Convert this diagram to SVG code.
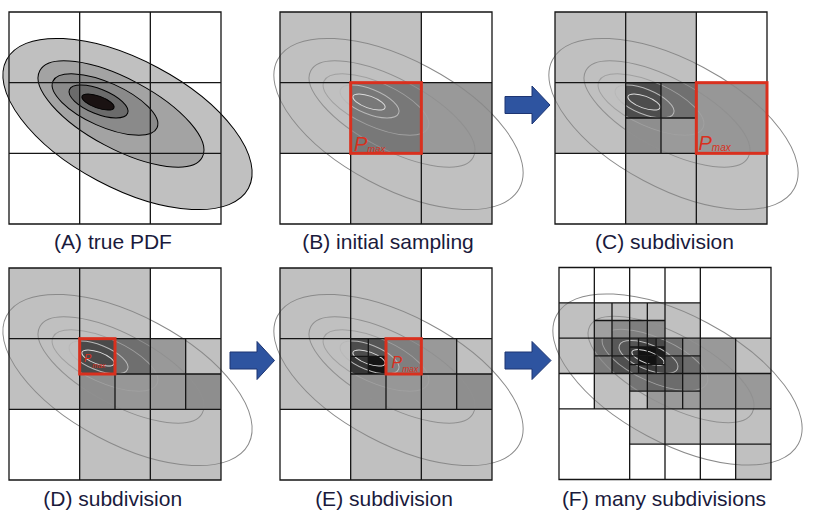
<svg xmlns="http://www.w3.org/2000/svg" xmlns:xlink="http://www.w3.org/1999/xlink" width="813" height="522" viewBox="0 0 813 522">
<style>
.lbl{font-family:"Liberation Sans",Arial,sans-serif;font-size:21px;fill:#1a1a3c;text-anchor:middle}
.grid{fill:none;stroke:#151515;stroke-width:1.3}
.w{fill:#fff}.L{fill:#c0c0c0}.M{fill:#999}
.red{fill:none;stroke:#d9301e;stroke-width:3}
.pm{font-family:"Liberation Sans",Arial,sans-serif;fill:#d9301e;font-style:italic}
.arrow{fill:#2e54a0;stroke:#1d3572;stroke-width:1}
.pdf{stroke:#000;stroke-width:1}
</style>
<defs>
<g id="contours" fill="none" stroke-width="1">
<ellipse cx="118.5" cy="112" rx="137" ry="64" transform="rotate(28 118.5 112)" stroke="#8a8a8a"/>
<ellipse cx="112" cy="102" rx="92" ry="35" transform="rotate(28 112 102)" stroke="#909090"/>
<ellipse cx="96" cy="92.5" rx="57" ry="22" transform="rotate(24 96 92.5)" stroke="#a0a0a0"/>
<ellipse cx="89.5" cy="89.5" rx="31.4" ry="12.4" transform="rotate(22 89.5 89.5)" stroke="#b8b8b8"/>
<ellipse cx="89" cy="90" rx="17" ry="6" transform="rotate(20 89 90)" stroke="#dcdcdc"/>
</g>
</defs>
<rect width="813" height="522" fill="#fff"/>

<g id="panelA" transform="translate(9,12)">
<ellipse class="pdf" cx="118.5" cy="112" rx="137" ry="64" transform="rotate(28 118.5 112)" fill="#c0c0c0"/>
<ellipse class="pdf" cx="112" cy="102" rx="92" ry="35" transform="rotate(28 112 102)" fill="#a3a3a3"/>
<ellipse class="pdf" cx="96" cy="92.5" rx="57" ry="22" transform="rotate(24 96 92.5)" fill="#8a8a8a"/>
<ellipse class="pdf" cx="89.5" cy="89.5" rx="31.4" ry="12.4" transform="rotate(22 89.5 89.5)" fill="#6b6b6b"/>
<ellipse class="pdf" cx="89" cy="90" rx="17" ry="6" transform="rotate(20 89 90)" fill="#1a1212"/>
<path class="grid" d="M0 0H212V212H0Z M70.67 0V212 M141.33 0V212 M0 70.67H212 M0 141.33H212"/>
</g>

<g id="panelB" transform="translate(280,12)">
<rect class="L" x="0" y="0" width="70.67" height="70.67"/>
<rect class="L" x="70.67" y="0" width="70.67" height="70.67"/>
<rect class="w" x="141.33" y="0" width="70.67" height="70.67"/>
<rect class="L" x="0" y="70.67" width="70.67" height="70.67"/>
<rect fill="#787878" x="70.67" y="70.67" width="70.67" height="70.67"/>
<rect class="M" x="141.33" y="70.67" width="70.67" height="70.67"/>
<rect class="w" x="0" y="141.33" width="70.67" height="70.67"/>
<rect class="L" x="70.67" y="141.33" width="70.67" height="70.67"/>
<rect class="L" x="141.33" y="141.33" width="70.67" height="70.67"/>
<use xlink:href="#contours"/>
<path class="grid" d="M0 0H212V212H0Z M70.67 0V212 M141.33 0V212 M0 70.67H212 M0 141.33H212"/>
<rect class="red" x="70.67" y="70.67" width="70.67" height="70.67"/>
<text class="pm" x="74" y="139" font-size="20">P<tspan font-size="9.5" dx="0" dy="1">max</tspan></text>
</g>

<g id="panelC" transform="translate(555,12)">
<rect class="L" x="0" y="0" width="70.67" height="70.67"/>
<rect class="L" x="70.67" y="0" width="70.67" height="70.67"/>
<rect class="w" x="141.33" y="0" width="70.67" height="70.67"/>
<rect class="L" x="0" y="70.67" width="70.67" height="70.67"/>
<rect fill="#4d4d4d" x="70.67" y="70.67" width="35.33" height="35.33"/>
<rect fill="#707070" x="106" y="70.67" width="35.33" height="35.33"/>
<rect fill="#8e8e8e" x="70.67" y="106" width="35.33" height="35.33"/>
<rect fill="#9a9a9a" x="106" y="106" width="35.33" height="35.33"/>
<rect fill="#979797" x="141.33" y="70.67" width="70.67" height="70.67"/>
<rect class="w" x="0" y="141.33" width="70.67" height="70.67"/>
<rect class="L" x="70.67" y="141.33" width="70.67" height="70.67"/>
<rect class="L" x="141.33" y="141.33" width="70.67" height="70.67"/>
<use xlink:href="#contours"/>
<path class="grid" d="M0 0H212V212H0Z M70.67 0V212 M141.33 0V212 M0 70.67H212 M0 141.33H212 M70.67 106H141.33 M106 70.67V141.33"/>
<rect class="red" x="141.33" y="70.67" width="70.67" height="70.67"/>
<text class="pm" x="143.5" y="138" font-size="20">P<tspan font-size="10" dy="1">max</tspan></text>
</g>

<g id="panelD" transform="translate(9,268)">
<rect class="L" x="0" y="0" width="70.67" height="70.67"/>
<rect class="L" x="70.67" y="0" width="70.67" height="70.67"/>
<rect class="w" x="141.33" y="0" width="70.67" height="70.67"/>
<rect class="L" x="0" y="70.67" width="70.67" height="70.67"/>
<rect fill="#4a4a4a" x="70.67" y="70.67" width="35.33" height="35.33"/>
<rect fill="#6f6f6f" x="106" y="70.67" width="35.33" height="35.33"/>
<rect fill="#8d8d8d" x="70.67" y="106" width="35.33" height="35.33"/>
<rect fill="#979797" x="106" y="106" width="35.33" height="35.33"/>
<rect class="M" x="141.33" y="70.67" width="35.33" height="35.33"/>
<rect class="L" x="176.67" y="70.67" width="35.33" height="35.33"/>
<rect class="M" x="141.33" y="106" width="35.33" height="35.33"/>
<rect fill="#8e8e8e" x="176.67" y="106" width="35.33" height="35.33"/>
<rect class="w" x="0" y="141.33" width="70.67" height="70.67"/>
<rect class="L" x="70.67" y="141.33" width="70.67" height="70.67"/>
<rect class="L" x="141.33" y="141.33" width="70.67" height="70.67"/>
<use xlink:href="#contours"/>
<path class="grid" d="M0 0H212V212H0Z M70.67 0V212 M141.33 0V212 M0 70.67H212 M0 141.33H212 M70.67 106H212 M106 70.67V141.33 M176.67 70.67V141.33"/>
<rect class="red" x="70.67" y="70.67" width="35.33" height="35.33"/>
<text class="pm" x="75" y="94" font-size="11">P<tspan font-size="7" dx="1" dy="6">max</tspan></text>
</g>

<g id="panelE" transform="translate(280,268)">
<rect class="L" x="0" y="0" width="70.67" height="70.67"/>
<rect class="L" x="70.67" y="0" width="70.67" height="70.67"/>
<rect class="w" x="141.33" y="0" width="70.67" height="70.67"/>
<rect class="L" x="0" y="70.67" width="70.67" height="70.67"/>
<rect fill="#4c4c4c" x="70.67" y="70.67" width="17.67" height="17.67"/>
<rect fill="#555" x="88.33" y="70.67" width="17.67" height="17.67"/>
<rect fill="#363636" x="70.67" y="88.33" width="17.67" height="17.67"/>
<rect fill="#141414" x="88.33" y="88.33" width="17.67" height="17.67"/>
<rect fill="#7f7f7f" x="106" y="70.67" width="35.33" height="35.33"/>
<rect fill="#8f8f8f" x="70.67" y="106" width="35.33" height="35.33"/>
<rect fill="#979797" x="106" y="106" width="35.33" height="35.33"/>
<rect class="M" x="141.33" y="70.67" width="35.33" height="35.33"/>
<rect class="L" x="176.67" y="70.67" width="35.33" height="35.33"/>
<rect class="M" x="141.33" y="106" width="35.33" height="35.33"/>
<rect fill="#8e8e8e" x="176.67" y="106" width="35.33" height="35.33"/>
<rect class="w" x="0" y="141.33" width="70.67" height="70.67"/>
<rect class="L" x="70.67" y="141.33" width="70.67" height="70.67"/>
<rect class="L" x="141.33" y="141.33" width="70.67" height="70.67"/>
<use xlink:href="#contours"/>
<path class="grid" d="M0 0H212V212H0Z M70.67 0V212 M141.33 0V212 M0 70.67H212 M0 141.33H212 M70.67 106H212 M106 70.67V141.33 M176.67 70.67V141.33 M70.67 88.33H106 M88.33 70.67V106"/>
<rect class="red" x="106" y="70.67" width="35.33" height="35.33"/>
<text class="pm" x="111.5" y="100" font-size="16">P<tspan font-size="8.5" dy="4">max</tspan></text>
</g>

<g id="panelF" transform="translate(559,267.5)">
<rect class="w" x="0" y="0" width="35.33" height="35.33"/>
<rect class="w" x="35.33" y="0" width="35.33" height="35.33"/>
<rect class="L" x="0" y="35.33" width="35.33" height="35.33"/>
<rect class="L" x="35.33" y="35.33" width="17.67" height="17.67"/>
<rect class="L" x="53" y="35.33" width="17.67" height="17.67"/>
<rect fill="#a0a0a0" x="35.33" y="53" width="17.67" height="17.67"/>
<rect fill="#8a8a8a" x="53" y="53" width="17.67" height="17.67"/>
<rect class="w" x="70.67" y="0" width="35.33" height="35.33"/>
<rect class="w" x="106" y="0" width="35.33" height="35.33"/>
<rect class="L" x="70.67" y="35.33" width="17.67" height="17.67"/>
<rect class="L" x="88.33" y="35.33" width="17.67" height="17.67"/>
<rect fill="#7e7e7e" x="70.67" y="53" width="17.67" height="17.67"/>
<rect fill="#8e8e8e" x="88.33" y="53" width="17.67" height="17.67"/>
<rect class="L" x="106" y="35.33" width="35.33" height="35.33"/>
<rect class="w" x="141.33" y="0" width="70.67" height="70.67"/>
<rect class="L" x="0" y="70.67" width="35.33" height="35.33"/>
<rect fill="#6a6a6a" x="35.33" y="70.67" width="17.67" height="17.67"/>
<rect fill="#585858" x="53" y="70.67" width="17.67" height="17.67"/>
<rect fill="#7c7c7c" x="35.33" y="88.33" width="17.67" height="17.67"/>
<rect fill="#505050" x="53" y="88.33" width="17.67" height="17.67"/>
<rect class="w" x="0" y="106" width="35.33" height="35.33"/>
<rect class="L" x="35.33" y="106" width="35.33" height="35.33"/>
<rect fill="#555" x="70.67" y="70.67" width="8.83" height="8.83"/>
<rect fill="#444" x="79.5" y="70.67" width="8.83" height="8.83"/>
<rect fill="#3c3c3c" x="70.67" y="79.5" width="8.83" height="8.83"/>
<rect fill="#121212" x="79.5" y="79.5" width="8.83" height="8.83"/>
<rect fill="#3a3a3a" x="88.33" y="70.67" width="8.83" height="8.83"/>
<rect fill="#4a4a4a" x="97.17" y="70.67" width="8.83" height="8.83"/>
<rect fill="#121212" x="88.33" y="79.5" width="8.83" height="8.83"/>
<rect fill="#1c1c1c" x="97.17" y="79.5" width="8.83" height="8.83"/>
<rect fill="#444" x="70.67" y="88.33" width="8.83" height="8.83"/>
<rect fill="#161616" x="79.5" y="88.33" width="8.83" height="8.83"/>
<rect fill="#555" x="70.67" y="97.17" width="8.83" height="8.83"/>
<rect fill="#3a3a3a" x="79.5" y="97.17" width="8.83" height="8.83"/>
<rect fill="#121212" x="88.33" y="88.33" width="8.83" height="8.83"/>
<rect fill="#2a2a2a" x="97.17" y="88.33" width="8.83" height="8.83"/>
<rect fill="#3a3a3a" x="88.33" y="97.17" width="8.83" height="8.83"/>
<rect fill="#4a4a4a" x="97.17" y="97.17" width="8.83" height="8.83"/>
<rect fill="#717171" x="106" y="70.67" width="17.67" height="17.67"/>
<rect fill="#8a8a8a" x="123.67" y="70.67" width="17.67" height="17.67"/>
<rect fill="#565656" x="106" y="88.33" width="17.67" height="17.67"/>
<rect fill="#6c6c6c" x="123.67" y="88.33" width="17.67" height="17.67"/>
<rect fill="#747474" x="70.67" y="106" width="17.67" height="17.67"/>
<rect fill="#666" x="88.33" y="106" width="17.67" height="17.67"/>
<rect class="L" x="70.67" y="123.67" width="17.67" height="17.67"/>
<rect class="M" x="88.33" y="123.67" width="17.67" height="17.67"/>
<rect fill="#6c6c6c" x="106" y="106" width="17.67" height="17.67"/>
<rect fill="#7a7a7a" x="123.67" y="106" width="17.67" height="17.67"/>
<rect fill="#9a9a9a" x="106" y="123.67" width="17.67" height="17.67"/>
<rect fill="#9a9a9a" x="123.67" y="123.67" width="17.67" height="17.67"/>
<rect class="M" x="141.33" y="70.67" width="35.33" height="35.33"/>
<rect class="L" x="176.67" y="70.67" width="35.33" height="35.33"/>
<rect class="M" x="141.33" y="106" width="35.33" height="35.33"/>
<rect class="M" x="176.67" y="106" width="35.33" height="35.33"/>
<rect class="w" x="0" y="141.33" width="70.67" height="70.67"/>
<rect class="L" x="70.67" y="141.33" width="35.33" height="35.33"/>
<rect class="L" x="106" y="141.33" width="35.33" height="35.33"/>
<rect class="w" x="70.67" y="176.67" width="35.33" height="35.33"/>
<rect class="w" x="106" y="176.67" width="35.33" height="35.33"/>
<rect class="L" x="141.33" y="141.33" width="35.33" height="35.33"/>
<rect class="L" x="176.67" y="141.33" width="35.33" height="35.33"/>
<rect class="w" x="141.33" y="176.67" width="35.33" height="35.33"/>
<rect class="L" x="176.67" y="176.67" width="35.33" height="35.33"/>
<use xlink:href="#contours"/>
<path class="grid" d="M0 0H212V212H0Z M70.67 0V212 M141.33 0V212 M0 70.67H212 M0 141.33H212
M35.33 0V141.33 M53 35.33V106 M79.5 70.67V106 M88.33 35.33V141.33 M97.17 70.67V106 M106 0V212 M123.67 70.67V141.33 M176.67 70.67V212
M0 35.33H141.33 M35.33 53H106 M70.67 79.5H106 M35.33 88.33H141.33 M70.67 97.17H106 M0 106H212 M70.67 123.67H141.33 M70.67 176.67H212"/>
</g>

<g id="connectors">
<polygon class="arrow" points="505,96.5 532,96.5 532,86 550,105 532,124 532,113.5 505,113.5"/>
<polygon class="arrow" points="230,352 257,352 257,341.5 274.5,360.5 257,379.5 257,369 230,369"/>
<polygon class="arrow" points="505,352 532,352 532,341.5 551,360.5 532,379.5 532,369 505,369"/>
</g>

<g id="labels">
<text class="lbl" x="113" y="249">(A) true PDF</text>
<text class="lbl" x="388" y="249">(B) initial sampling</text>
<text class="lbl" x="664.5" y="249">(C) subdivision</text>
<text class="lbl" x="112.7" y="505.5">(D) subdivision</text>
<text class="lbl" x="384" y="505.5">(E) subdivision</text>
<text class="lbl" x="664" y="505.5">(F) many subdivisions</text>
</g>
</svg>
